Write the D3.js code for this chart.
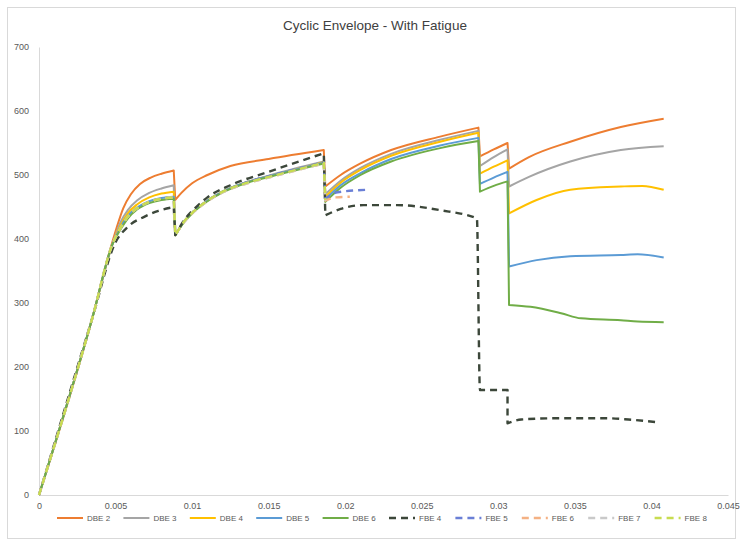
<!DOCTYPE html>
<html><head><meta charset="utf-8">
<script src="https://cdn.jsdelivr.net/npm/d3@7"></script>
<style>body{margin:0;background:#fff}svg{display:block}text{font-family:"Liberation Sans",Arial,sans-serif}</style>
</head><body><div id="chart"></div>
<script>
const title = "Cyclic Envelope - With Fatigue";
const seriesNames = ["DBE 2","DBE 3","DBE 4","DBE 5","DBE 6","FBE 4","FBE 5","FBE 6","FBE 7","FBE 8"];
const seriesColors = ["#ED7D31","#A5A5A5","#FFC000","#5B9BD5","#70AD47","#3c473a","#6a7fd6","#F4B183","#C9C9C9","#c8dc50"];
const seriesDashed = [false,false,false,false,false,true,true,true,true,true];
const xTicks = [0,0.005,0.01,0.015,0.02,0.025,0.03,0.035,0.04,0.045];
const xTickLabels = ["0","0.005","0.01","0.015","0.02","0.025","0.03","0.035","0.04","0.045"];
const yTicks = [0,100,200,300,400,500,600,700];

// [strain, force] pairs
const dbe2 = [[0,0],[0.0035,278],[0.0047,388],[0.0051,420],[0.0055,448],[0.006,470],[0.0066,486],[0.0073,496],[0.008,502],[0.0088,507],[0.0089,461],[0.0093,472],[0.01,487],[0.011,500],[0.0125,514],[0.015,525],[0.0186,539],[0.0187,482],[0.0197,500],[0.021,518],[0.023,539],[0.0262,560],[0.0287,574],[0.0288,529],[0.0297,540],[0.0306,550],[0.0307,510],[0.032,528],[0.0347,552],[0.038,575],[0.0408,588]];
const dbe3 = [[0,0],[0.0035,278],[0.0048,392],[0.0053,425],[0.0058,445],[0.0064,460],[0.0072,472],[0.008,479],[0.0088,484],[0.0089,406],[0.0095,428],[0.0101,443],[0.011,460],[0.012,474],[0.0136,489],[0.015,499],[0.0186,521],[0.0187,470],[0.0197,491],[0.021,511],[0.023,533],[0.0262,555],[0.0287,569],[0.0288,514],[0.0297,528],[0.0306,540],[0.0307,482],[0.032,497],[0.0347,521],[0.038,539],[0.0408,545]];
const dbe4 = [[0,0],[0.0035,278],[0.0048,392],[0.0053,420],[0.0058,440],[0.0064,454],[0.0072,465],[0.008,471],[0.0088,474],[0.0089,406],[0.0095,428],[0.0101,443],[0.011,460],[0.012,474],[0.0136,489],[0.015,498],[0.0186,520],[0.0187,466],[0.0197,488],[0.021,508],[0.023,530],[0.0262,552],[0.0287,566],[0.0288,502],[0.0297,513],[0.0306,523],[0.0307,440],[0.0325,461],[0.0347,477],[0.038,482],[0.0394,483],[0.0408,477]];
const dbe5 = [[0,0],[0.0035,278],[0.0048,392],[0.0053,417],[0.0058,436],[0.0064,449],[0.0072,459],[0.008,464],[0.0088,466],[0.0089,406],[0.0095,428],[0.0101,443],[0.011,460],[0.012,474],[0.0136,489],[0.015,498],[0.0186,519],[0.0187,462],[0.0197,484],[0.021,503],[0.023,525],[0.0262,546],[0.0287,558],[0.0288,486],[0.0297,496],[0.0306,505],[0.0307,357],[0.0325,367],[0.0347,373],[0.038,375],[0.0391,376],[0.0408,371]];
const dbe6 = [[0,0],[0.0035,278],[0.0048,392],[0.0053,414],[0.0058,432],[0.0064,446],[0.0072,456],[0.008,461],[0.0088,463],[0.0089,406],[0.0095,427],[0.0101,442],[0.011,459],[0.012,473],[0.0136,488],[0.015,497],[0.0186,518],[0.0187,458],[0.0197,480],[0.021,500],[0.023,521],[0.0262,542],[0.0287,553],[0.0288,474],[0.0297,483],[0.0306,490],[0.0307,297],[0.0321,294],[0.0341,284],[0.0354,276],[0.038,273],[0.0391,271],[0.0408,270]];
const fbe4 = [[0,0],[0.0035,278],[0.005,395],[0.0058,419],[0.0069,435],[0.0078,444],[0.0088,450],[0.0089,406],[0.0095,430],[0.0101,446],[0.011,465],[0.0125,484],[0.015,505],[0.0186,534],[0.0187,437],[0.0197,447],[0.0212,453],[0.0234,453],[0.0262,445],[0.0286,432],[0.0288,164],[0.0306,164],[0.0306,112],[0.0315,118],[0.034,120],[0.037,120],[0.0385,118],[0.0403,114]];
const fbe5 = [[0,0],[0.0035,278],[0.0048,392],[0.0053,416],[0.0058,435],[0.0064,448],[0.0072,458],[0.008,463],[0.0088,465],[0.0089,406],[0.0095,428],[0.0101,443],[0.011,460],[0.012,474],[0.0136,489],[0.015,498],[0.0186,520],[0.0187,463],[0.0195,473],[0.0216,477]];
const fbe6 = [[0,0],[0.0035,278],[0.0048,392],[0.0053,416],[0.0058,435],[0.0064,448],[0.0072,458],[0.008,463],[0.0088,465],[0.0089,406],[0.0095,427],[0.0101,442],[0.011,459],[0.012,473],[0.0136,487],[0.015,496],[0.0186,518],[0.0187,460],[0.0194,465],[0.0203,466]];
const fbe7 = [[0,0],[0.0035,278],[0.0048,392],[0.0053,416],[0.0058,435],[0.0064,448],[0.0072,458],[0.008,463],[0.0088,465],[0.0089,406],[0.0095,427],[0.0101,442],[0.011,459],[0.012,473],[0.0136,487],[0.015,496],[0.0186,518],[0.0187,460]];
const fbe8 = [[0,0],[0.0035,278],[0.0048,392],[0.0053,416],[0.0058,435],[0.0064,448],[0.0072,458],[0.008,463],[0.0088,465],[0.0089,406],[0.0095,428],[0.0101,443],[0.011,460],[0.012,474],[0.0136,488],[0.015,497],[0.0186,519],[0.0187,461]];
const seriesData = [dbe2,dbe3,dbe4,dbe5,dbe6,fbe4,fbe5,fbe6,fbe7,fbe8];

const W = 743, H = 545;
const svg = d3.select("#chart").append("svg").attr("width", W).attr("height", H);
svg.append("rect").attr("x",7.5).attr("y",7.5).attr("width",728).attr("height",531)
  .attr("fill","#fff").attr("stroke","#d9d9d9");

const x = d3.scaleLinear().domain([0,0.045]).range([39,728]);
const y = d3.scaleLinear().domain([0,700]).range([495,47]);

svg.append("text").attr("x",375).attr("y",30).attr("text-anchor","middle")
  .attr("font-size",13.5).attr("fill","#404040").text(title);

const yAxis = svg.append("g").attr("transform","translate(39,0)")
  .call(d3.axisLeft(y).tickValues(yTicks).tickSize(0).tickPadding(10).tickFormat(d3.format("d")));
yAxis.select(".domain").attr("stroke","#d9d9d9");
yAxis.selectAll("text").attr("font-size",9).attr("fill","#595959");

const xAxis = svg.append("g").attr("transform","translate(0,495)")
  .call(d3.axisBottom(x).tickValues(xTicks).tickSize(0).tickPadding(8).tickFormat((d,i)=>xTickLabels[i]));
xAxis.select(".domain").attr("stroke","#d9d9d9");
xAxis.selectAll("text").attr("font-size",9).attr("fill","#595959");

const line = d3.line().x(d=>x(d[0])).y(d=>y(d[1])).curve(d3.curveMonotoneX);

seriesData.forEach((data,i)=>{
  // split at vertical drops so the smooth curve stays sharp at the jumps
  const segs=[]; let cur=[data[0]];
  for(let k=1;k<data.length;k++){
    const p=data[k], q=data[k-1];
    if(p[0]-q[0] <= 0.00011 && Math.abs(p[1]-q[1])>20){ segs.push(cur); cur=[p]; }
    else cur.push(p);
  }
  segs.push(cur);
  let dstr="";
  segs.forEach((s,si)=>{
    let part;
    if(s.length>=3) part = line(s);
    else part = "M" + s.map(p=>x(p[0])+","+y(p[1])).join("L");
    if(si===0) dstr+=part; else dstr+= "L"+part.slice(1);
  });
  svg.append("path").attr("d",dstr).attr("fill","none")
    .attr("stroke",seriesColors[i]).attr("stroke-width",seriesDashed[i]?2.4:2)
    .attr("stroke-dasharray",seriesDashed[i]?"7,5":null)
    .attr("stroke-linejoin","round");
});

const legend = svg.append("g");
seriesNames.forEach((n,i)=>{
  const lx = 57 + i*66.4, ly = 518;
  legend.append("line").attr("x1",lx).attr("x2",lx+26).attr("y1",ly).attr("y2",ly)
    .attr("stroke",seriesColors[i]).attr("stroke-width",seriesDashed[i]?2.4:2)
    .attr("stroke-dasharray",seriesDashed[i]?"7,5":null);
  legend.append("text").attr("x",lx+30).attr("y",ly+3).attr("font-size",8)
    .attr("fill","#595959").text(n);
});
</script></body></html>
